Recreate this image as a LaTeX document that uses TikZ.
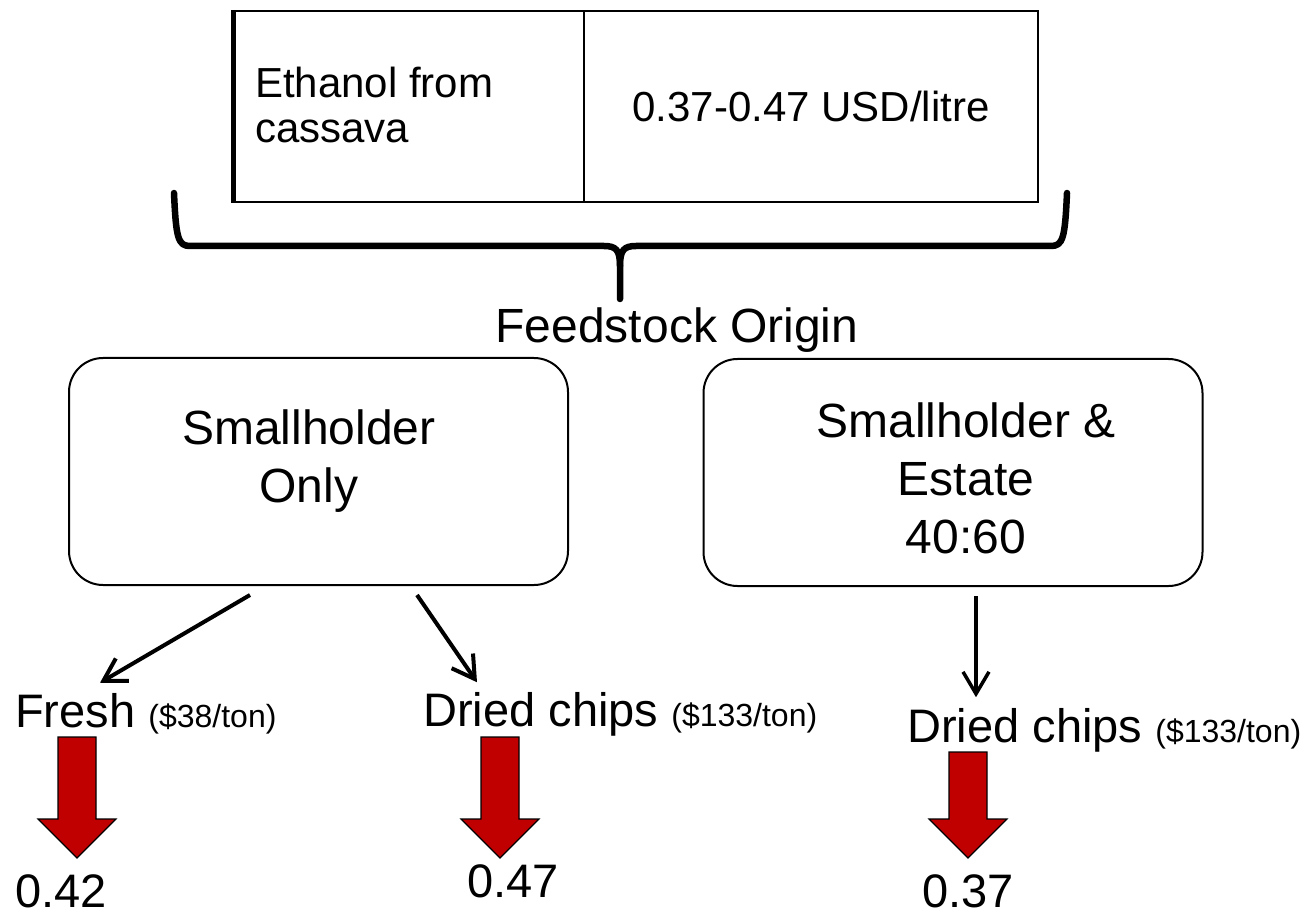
\documentclass[tikz,border=0pt]{standalone}
\usepackage{fontspec}
\setmainfont{Liberation Sans}
\usetikzlibrary{arrows.meta, calc}
\definecolor{arrowred}{HTML}{C00000}
\newcommand{\pricefont}{\fontsize{32}{38}\selectfont}
\newcommand{\boxfont}{\fontsize{48}{58}\selectfont}

\begin{document}
\begin{tikzpicture}[
    x=1pt, y=-1pt,
    >={Straight Barb[length=22pt,width=26pt]},
    font=\fontsize{47}{57}\selectfont
]

    % Global styles
    \tikzset{
        cell/.style={draw, line width=2pt, inner sep=0pt, minimum height=191pt},
        rbox/.style={draw, line width=2pt, rounded corners=34pt,
            minimum width=499pt, minimum height=227pt, inner sep=0pt},
        boxtext/.style={align=center, inner sep=0pt, anchor=north, font=\boxfont},
        lbl/.style={anchor=base west, inner sep=0pt},
        conn/.style={->, line width=4pt},
        brace/.style={line width=6.5pt, line cap=round, line join=round},
        blockarr/.style={draw=black, line width=1.2pt, fill=arrowred}
    }
    \newcommand{\blockdown}[2]{%
        \draw[blockarr] (#1-19,#2) -- (#1+19,#2) -- (#1+19,819) -- (#1+39,819)
            -- (#1,858) -- (#1-39,819) -- (#1-19,819) -- cycle;}

    \useasboundingbox (0,0) rectangle (1307,917);

    % Top table
    \node[cell, minimum width=350pt] (feed) at (409,106.5) {};
    \node[cell, minimum width=454pt, font=\fontsize{42}{45}\selectfont] (cost) at (811,106.5) {0.37-0.47 USD/litre};
    \draw[line width=5pt] (feed.north west) -- (feed.south west);
    \node[anchor=north west, align=left, inner sep=0pt, font=\fontsize{42}{45}\selectfont] (feedtxt) at (255,67) {Ethanol from\\cassava};

    % Brace
    \coordinate (brL) at (174,193);
    \coordinate (brR) at (1067,193);
    \coordinate (brT) at (620,299);
    \draw[brace] (brL) .. controls (176,238) and (178,246) .. (190,246) -- (604,246)
        .. controls (616,246) and (620,250) .. (620,266) -- (brT);
    \draw[brace] (brR) .. controls (1065,238) and (1063,246) .. (1051,246) -- (636,246)
        .. controls (624,246) and (620,250) .. (620,266);

    \node[anchor=base, inner sep=0pt, font=\boxfont] (origin) at (677,343) {Feedstock Origin};

    % Feedstock boxes
    \node[rbox] (SH) at (318.5,471.5) {};
    \node[boxtext] (SHtxt) at (309,410) {Smallholder\\Only};
    \node[rbox] (SE) at (953,472.5) {};
    \node[boxtext] (SEtxt) at (966,403) {Smallholder \&\\Estate\\40:60};

    % Feedstock forms
    \node[lbl] (fresh) at (15,727) {Fresh {\pricefont(\$38/ton)}};
    \node[lbl] (chipsA) at (423,726) {Dried chips {\pricefont(\$133/ton)}};
    \node[lbl] (chipsB) at (907,742) {Dried chips {\pricefont(\$133/ton)}};

    \draw[conn] ([xshift=-68.5pt,yshift=-9pt]SH.south) -- ([xshift=85pt,yshift=10pt]fresh.north west);
    \draw[conn] ([xshift=98.5pt,yshift=-9pt]SH.south) -- ([xshift=54pt,yshift=9.5pt]chipsA.north west);
    \draw[conn, line width=3.5pt] ([xshift=23pt,yshift=-9pt]SE.south) -- ([xshift=69pt,yshift=10.5pt]chipsB.north west);

    % Cost results
    \blockdown{77}{737}
    \blockdown{500}{737}
    \blockdown{968}{752}

    \node[lbl] (costF) at (15,907) {0.42};
    \node[lbl] (costA) at (467,897) {0.47};
    \node[lbl] (costB) at (922,907) {0.37};

\end{tikzpicture}
\end{document}
